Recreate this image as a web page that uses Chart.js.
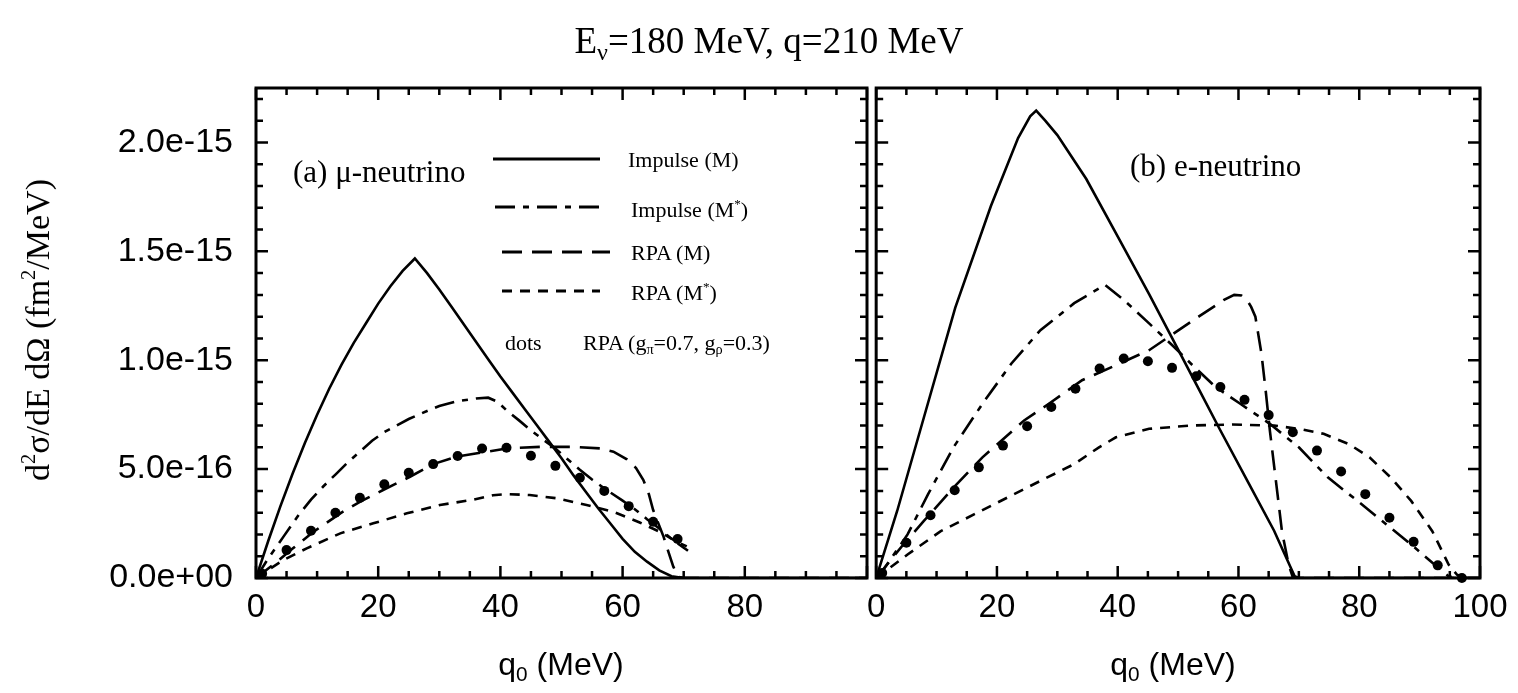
<!DOCTYPE html>
<html><head><meta charset="utf-8">
<script src="https://cdn.jsdelivr.net/npm/chart.js@4.4.1/dist/chart.umd.min.js"></script>
<style>
html,body{margin:0;padding:0;background:#fff;}
#wrap{position:relative;width:1518px;height:693px;overflow:hidden;background:#fff;}
.box{position:absolute;top:0;height:693px;}
.t{position:absolute;white-space:nowrap;color:#000;line-height:1;}
.serif{font-family:"Liberation Serif","Times New Roman",serif;}
.sans{font-family:"Liberation Sans",Arial,sans-serif;}
.t sup{font-size:0.6em;position:relative;top:-0.7em;vertical-align:baseline;}
.t sub{font-size:0.65em;position:relative;top:0.3em;vertical-align:baseline;}
</style></head><body>
<div id="wrap">
  <div class="box" style="left:0;width:880px"><canvas id="cA" width="880" height="693"></canvas></div>
  <div class="box" style="left:857px;width:661px"><canvas id="cB" width="661" height="693"></canvas></div>

  <div class="t serif" style="left:769px;top:40px;font-size:37px;transform:translate(-50%,-50%)">E<sub>ν</sub>=180 MeV, q=210 MeV</div>
  <div class="t serif" style="left:38px;top:330px;font-size:34px;transform:translate(-50%,-50%) rotate(-90deg)">d<sup>2</sup>σ/dE dΩ (fm<sup>2</sup>/MeV)</div>
  <div class="t sans" style="left:561px;top:664px;font-size:32px;transform:translate(-50%,-50%)">q<sub>0</sub> (MeV)</div>
  <div class="t sans" style="left:1173px;top:664px;font-size:32px;transform:translate(-50%,-50%)">q<sub>0</sub> (MeV)</div>

  <div class="t serif" style="left:293px;top:171px;font-size:31px;transform:translateY(-50%)">(a) μ-neutrino</div>
  <div class="t serif" style="left:1130px;top:165px;font-size:31px;transform:translateY(-50%)">(b) e-neutrino</div>

  <div class="t serif" style="left:628px;top:160px;font-size:22px;transform:translateY(-50%)">Impulse (M)</div>
  <div class="t serif" style="left:631px;top:210px;font-size:22px;transform:translateY(-50%)">Impulse (M<sup>*</sup>)</div>
  <div class="t serif" style="left:631px;top:253px;font-size:22px;transform:translateY(-50%)">RPA (M)</div>
  <div class="t serif" style="left:631px;top:293px;font-size:22px;transform:translateY(-50%)">RPA (M<sup>*</sup>)</div>
  <div class="t serif" style="left:505px;top:343px;font-size:22px;transform:translateY(-50%)">dots</div>
  <div class="t serif" style="left:583px;top:343px;font-size:22px;transform:translateY(-50%)">RPA (g<sub>π</sub>=0.7, g<sub>ρ</sub>=0.3)</div>
</div>
<script>
// ---- data (y values in units of 1e-15 fm^2/MeV) ----
const Y_UNIT = 1e-15;

// panel (a) mu-neutrino
const aImpMx = [0,2,4,6,8,10,12,14,16,18,20,22,24,26,28,30,32,34,36,38,40,42,44,46,48,50,52,54,56,58,60,62,64,66,68,70,100];
const aImpMy = [0,0.17,0.33,0.48,0.62,0.75,0.87,0.98,1.08,1.17,1.26,1.34,1.41,1.467,1.40,1.325,1.245,1.165,1.085,1.005,0.925,0.85,0.775,0.70,0.625,0.55,0.47,0.395,0.32,0.25,0.18,0.12,0.075,0.035,0.008,0,0];
const aImpSx = [0,2,4.5,7,9,11,13,15,17,19,21,23,25,27,30,33,36,38,39.5,41,43,45,47,49,51,53,55,57.5,60,62,64,66,68,70.7];
const aImpSy = [0,0.09,0.19,0.29,0.36,0.42,0.475,0.53,0.58,0.63,0.67,0.70,0.73,0.755,0.79,0.812,0.824,0.828,0.81,0.77,0.725,0.678,0.635,0.595,0.545,0.497,0.452,0.402,0.355,0.316,0.27,0.227,0.18,0.125];
const aRpaMx = [0,3,6,9.4,13.8,17,20.8,25.2,29,32.8,37.8,41,46.5,52,56.3,58.5,60.7,62.2,63.4,64.3,65,66,66.7,67.5,68.3,69.1,70,100];
const aRpaMy = [0,0.065,0.135,0.212,0.297,0.35,0.404,0.465,0.523,0.557,0.58,0.595,0.602,0.602,0.595,0.58,0.545,0.505,0.45,0.385,0.312,0.24,0.19,0.12,0.052,0.006,0,0];
const aRpaSx = [0,4.5,8.3,13.8,19.2,24.7,30.1,35.6,38.8,41,44.8,49.2,54.1,58.5,62.8,66.1,69,70.5];
const aRpaSy = [0,0.083,0.136,0.205,0.251,0.297,0.335,0.36,0.38,0.385,0.381,0.366,0.335,0.304,0.255,0.212,0.165,0.145];
const aDotsx = [1,5,9,13,17,21,25,29,33,37,41,45,49,53,57,61,65,69];
const aDotsy = [0.02,0.128,0.217,0.300,0.368,0.430,0.483,0.523,0.560,0.595,0.598,0.561,0.515,0.460,0.400,0.330,0.258,0.179];

// panel (b) e-neutrino
const bImpMx = [0,3.5,8.3,13.1,19,23.5,25.5,26.5,28,30,34.8,39.7,45.2,49.3,53,56.9,61.7,65.9,69.3,70,100];
const bImpMy = [0,0.31,0.776,1.242,1.708,2.02,2.12,2.146,2.10,2.034,1.832,1.584,1.304,1.087,0.89,0.683,0.435,0.217,0.008,0,0];
const bImpSx = [0,1,5.2,8.6,12.8,17.6,22.4,27.2,32.8,37.9,41,45.2,49.3,52.1,56.2,60.3,65.2,70,74.8,79.7,84.5,88.6,92.8,94.8,96];
const bImpSy = [0,0.03,0.2,0.385,0.6,0.8,0.985,1.138,1.262,1.346,1.277,1.169,1.062,0.985,0.877,0.8,0.708,0.6,0.462,0.354,0.246,0.154,0.054,0.008,0];
const bRpaMx = [0,4.5,7.9,12.8,17.6,24.5,28.6,34.1,39.7,45.2,49.3,53.4,57.6,59.3,60.5,61.4,62.1,62.8,63.8,64.5,65.2,66.2,67.2,68.3,69,70,100];
const bRpaMy = [0,0.154,0.262,0.415,0.554,0.723,0.8,0.908,0.977,1.046,1.123,1.2,1.277,1.3,1.297,1.277,1.245,1.2,1.031,0.862,0.677,0.446,0.215,0.062,0.003,0,0];
const bRpaSx = [0,5.2,10.7,16.2,21.7,27.2,32.8,36.9,39.7,45.2,52.1,59,65.9,70,74.1,78.3,81.7,85.2,88.6,92.1,94.8,96.2,97.5];
const bRpaSy = [0,0.108,0.215,0.292,0.369,0.446,0.523,0.6,0.646,0.685,0.7,0.705,0.7,0.685,0.662,0.615,0.554,0.462,0.354,0.215,0.062,0.015,0];
const bDotsx = [1,5,9,13,17,21,25,29,33,37,41,45,49,53,57,61,65,69,73,77,81,85,89,93,97];
const bDotsy = [0.023,0.162,0.288,0.403,0.508,0.608,0.697,0.785,0.869,0.962,1.008,0.995,0.965,0.926,0.877,0.818,0.748,0.669,0.585,0.489,0.385,0.277,0.166,0.058,0];

// ---- tick labels ----
const xTickLabelsA = ['0','20','40','60','80',''];
const xTickLabelsB = ['0','20','40','60','80','100'];
const yTickLabels = ['0.0e+00','5.0e-16','1.0e-15','1.5e-15','2.0e-15'];
const X_MIN = 0, X_MAX = 100, X_MAJOR = 20, X_MINOR = 5;
const Y_MIN = 0, Y_MAX = 2.25e-15, Y_MAJOR = 0.5e-15, Y_MINOR = 0.1e-15;

const pts = (xs, ys) => xs.map((x, i) => ({x: x, y: ys[i] * Y_UNIT}));

function datasets(impM, impS, rpaM, rpaS, dots) {
  return [
    {label:'Impulse (M)', data: impM, borderColor:'#000', borderWidth:2.6, pointRadius:0, fill:false},
    {label:'Impulse (M*)', data: impS, borderColor:'#000', borderWidth:2.6, borderDash:[20,8,6,8], pointRadius:0, fill:false},
    {label:'RPA (M)', data: rpaM, borderColor:'#000', borderWidth:2.6, borderDash:[20,10], pointRadius:0, fill:false},
    {label:'RPA (M*)', data: rpaS, borderColor:'#000', borderWidth:2.6, borderDash:[10,8], pointRadius:0, fill:false},
    {label:'RPA (g_pi=0.7, g_rho=0.3)', data: dots, showLine:false, pointRadius:5, pointBackgroundColor:'#000', pointBorderWidth:0, borderColor:'#000', clip:false}
  ];
}

const frameTicks = {
  id:'frameTicks',
  afterDatasetsDraw(chart){
    const {ctx, chartArea:a} = chart;
    const x = chart.scales.x, y = chart.scales.y;
    ctx.save();
    ctx.strokeStyle = '#000'; ctx.lineWidth = 2.5; ctx.setLineDash([]);
    ctx.beginPath();
    const nx = Math.round((X_MAX - X_MIN) / X_MINOR);
    for (let i = 0; i <= nx; i++) {
      const v = X_MIN + i * X_MINOR;
      const px = x.getPixelForValue(v);
      const L = (v % X_MAJOR === 0) ? 12 : 7;
      ctx.moveTo(px, a.bottom); ctx.lineTo(px, a.bottom - L);
      ctx.moveTo(px, a.top); ctx.lineTo(px, a.top + L);
    }
    const ny = Math.floor((Y_MAX - Y_MIN) / Y_MINOR + 1e-6);
    const per = Math.round(Y_MAJOR / Y_MINOR);
    for (let i = 0; i <= ny; i++) {
      const py = y.getPixelForValue(Y_MIN + i * Y_MINOR);
      const L = (i % per === 0) ? 12 : 7;
      ctx.moveTo(a.left, py); ctx.lineTo(a.left + L, py);
      ctx.moveTo(a.right, py); ctx.lineTo(a.right - L, py);
    }
    ctx.stroke();
    ctx.lineWidth = 3;
    ctx.strokeRect(a.left, a.top, a.right - a.left, a.bottom - a.top);
    ctx.restore();
  }
};

// legend sample lines (panel a), styled from the datasets themselves
const LEGEND_SAMPLES = [
  {index:0, x0:493, x1:600, y:159},
  {index:1, x0:495, x1:605, y:207},
  {index:2, x0:502, x1:610, y:252},
  {index:3, x0:502, x1:600, y:291}
];
const legendLines = {
  id:'legendLines',
  afterDatasetsDraw(chart){
    const ctx = chart.ctx;
    LEGEND_SAMPLES.forEach(s => {
      const ds = chart.data.datasets[s.index];
      ctx.save();
      ctx.strokeStyle = '#000';
      ctx.lineWidth = 3;
      ctx.setLineDash(ds.borderDash || []);
      ctx.beginPath(); ctx.moveTo(s.x0, s.y); ctx.lineTo(s.x1, s.y); ctx.stroke();
      ctx.restore();
    });
  }
};

function makeOptions(xLabels, showY, padRight){
  return {
    responsive:false, animation:false, devicePixelRatio:1,
    layout:{padding:{left:0, right:padRight, top:88, bottom:0}},
    plugins:{legend:{display:false}, tooltip:{enabled:false}, title:{display:false}},
    elements:{line:{tension:0}},
    scales:{
      x:{type:'linear', min:X_MIN, max:X_MAX,
         grid:{display:false, drawTicks:false}, border:{display:false},
         ticks:{stepSize:X_MAJOR, autoSkip:false, maxRotation:0, minRotation:0, padding:10, color:'#000',
                font:{family:'"Liberation Sans", Arial, sans-serif', size:33},
                callback:(v) => { const k = Math.round((v - X_MIN) / X_MAJOR); return Math.abs((v - X_MIN)/X_MAJOR - k) < 1e-6 ? (xLabels[k] ?? '') : ''; }},
         afterFit(s){ s.height = 115; }},
      y:{type:'linear', min:Y_MIN, max:Y_MAX,
         grid:{display:false, drawTicks:false}, border:{display:false},
         ticks:{display:showY, stepSize:Y_MAJOR, autoSkip:false, padding:23, color:'#000',
                font:{family:'"Liberation Sans", Arial, sans-serif', size:34},
                callback:(v) => { const k = v / Y_MAJOR; const r = Math.round(k); return Math.abs(k - r) < 1e-6 ? (yTickLabels[r] ?? '') : ''; }},
         afterFit(s){ s.width = showY ? 256 : 10; }}
    }
  };
}

new Chart(document.getElementById('cA'), {
  type:'line',
  data:{datasets: datasets(pts(aImpMx,aImpMy), pts(aImpSx,aImpSy), pts(aRpaMx,aRpaMy), pts(aRpaSx,aRpaSy), pts(aDotsx,aDotsy))},
  options: makeOptions(xTickLabelsA, true, 13),
  plugins:[frameTicks, legendLines]
});
new Chart(document.getElementById('cB'), {
  type:'line',
  data:{datasets: datasets(pts(bImpMx,bImpMy), pts(bImpSx,bImpSy), pts(bRpaMx,bRpaMy), pts(bRpaSx,bRpaSy), pts(bDotsx,bDotsy))},
  options: makeOptions(xTickLabelsB, false, 38),
  plugins:[frameTicks]
});
</script>
</body></html>
